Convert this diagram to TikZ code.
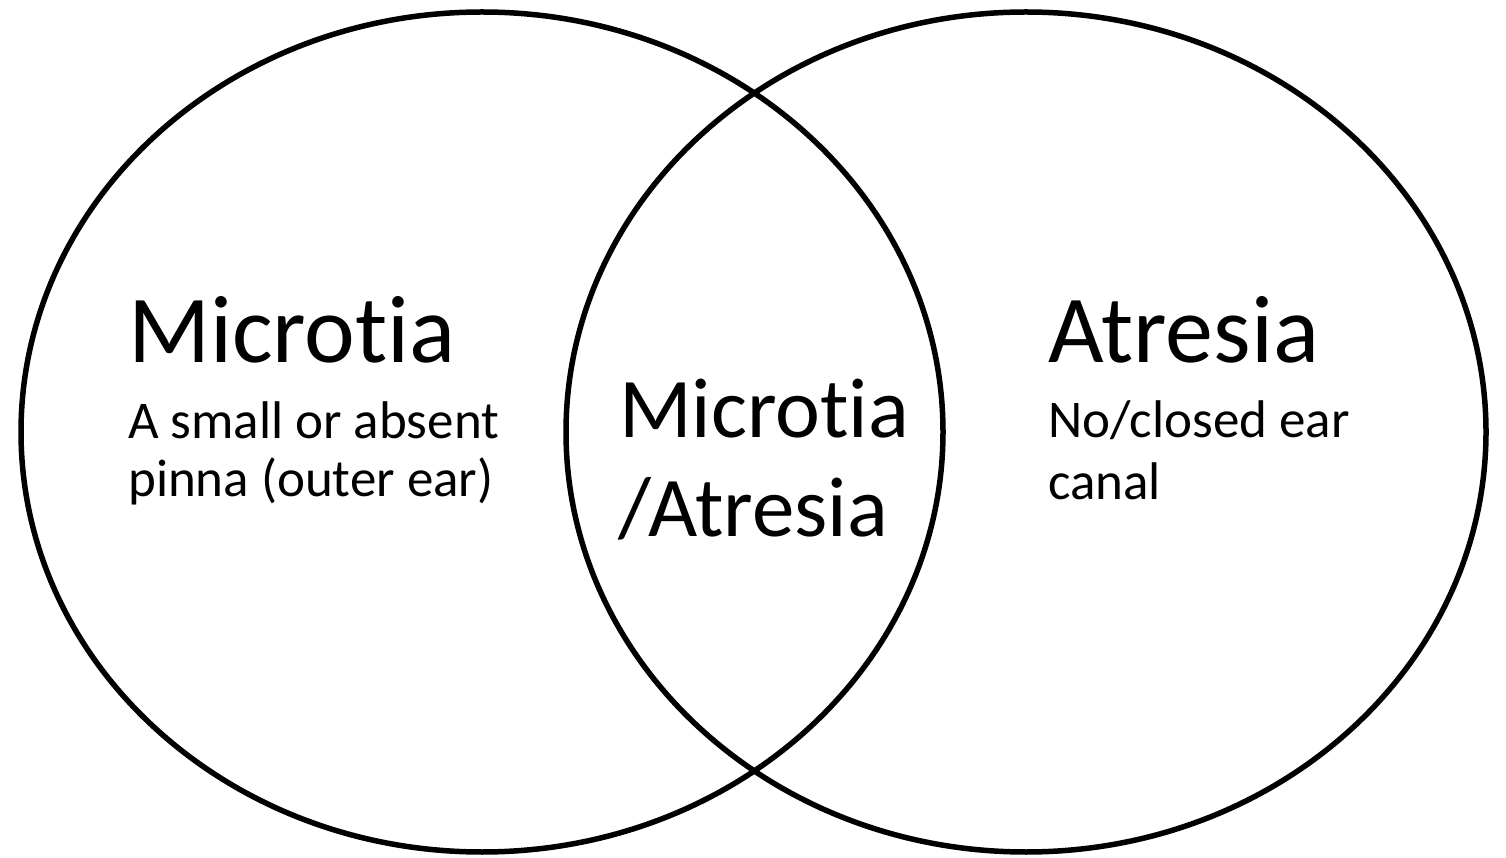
\documentclass[tikz,border=0pt]{standalone}
\usepackage{fontspec}
\setmainfont[Ligatures=NoCommon]{Carlito}
\usetikzlibrary{shapes.geometric}
\begin{document}
\begin{tikzpicture}[x=1pt,y=1pt,
  setshape/.style={draw=black, line width=5.5pt, ellipse, inner sep=0pt},
  bigtxt/.style={inner sep=0pt, anchor=base west, font=\fontsize{96}{96}\selectfont},
  midtxt/.style={inner sep=0pt, anchor=base west, font=\fontsize{85}{85}\selectfont},
  smalltxt/.style={inner sep=0pt, anchor=base west, font=\fontsize{53}{53}\selectfont}]
\useasboundingbox (0,0) rectangle (1506,857);
\node[setshape, minimum width=922pt, minimum height=840pt] (left) at (482,425) {};
\node[setshape, minimum width=920pt, minimum height=840pt] (right) at (1026,425) {};
\node[bigtxt] (ltitle) at (128,494) {Microtia};
\node[smalltxt] (ld1) at (128,418) {A small or absent};
\node[smalltxt] (ld2) at (128,360) {pinna (outer ear)};
\node[midtxt] (m1) at (619,419) {Microtia};
\node[midtxt] (m2) at (618,320) {/Atresia};
\node[bigtxt] (rtitle) at (1048,494) {Atresia};
\node[smalltxt] (rd1) at (1048,419) {No/closed ear};
\node[smalltxt] (rd2) at (1048,357) {canal};
\end{tikzpicture}
\end{document}
